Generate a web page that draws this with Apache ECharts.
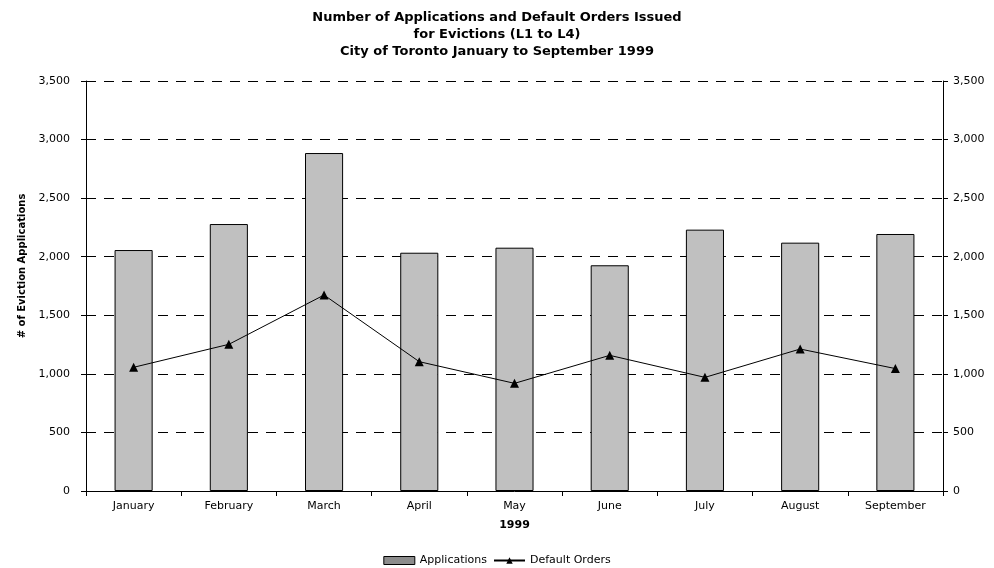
<!DOCTYPE html>
<html lang="en">
<head>
	<meta charset="UTF-8">
	<script src="https://cdn.jsdelivr.net/npm/echarts@6/dist/echarts.min.js"></script>
	<title>evictions</title>
	<style>
		body { margin: 0; background: #fff; }
		#chart { width: 994px; height: 568px; }
	</style>
</head>
<body>
	<div id="chart"></div>
	<script>
		// data
		var months = ['January', 'February', 'March', 'April', 'May', 'June', 'July', 'August', 'September'];
		var applications = [2057, 2279, 2885, 2034, 2077, 1927, 2231, 2120, 2194];
		var defaultOrders = [1056, 1252, 1673, 1104, 919, 1158, 970, 1212, 1045];

		var myChart = echarts.init(document.getElementById('chart'));
		var font = 'DejaVu Sans';

		var yAxisBase = {
			type: 'value',
			min: 0,
			max: 3500,
			interval: 500,
			axisLine: { show: true, lineStyle: { color: '#000', width: 1 } },
			axisTick: { show: true, length: 5, lineStyle: { color: '#000' } },
			axisLabel: {
				color: '#000', fontFamily: font, fontSize: 11, margin: 16,
				formatter: function (v) { return v.toLocaleString('en-US'); }
			}
		};

		var option = {
			backgroundColor: '#fff',
			animation: false,
			title: {
				text: 'Number of Applications and Default Orders Issued\nfor Evictions (L1 to L4)\nCity of Toronto January to September 1999',
				left: 'center',
				top: 4,
				textStyle: { fontFamily: font, fontSize: 13, fontWeight: 'bold', color: '#000', lineHeight: 17 }
			},
			grid: { left: 86, right: 51, top: 81, bottom: 77 },
			legend: {
				bottom: -3,
				left: 'center',
				itemGap: 6,
				itemWidth: 31,
				itemHeight: 8,
				textStyle: { fontFamily: font, fontSize: 11, color: '#000' },
				data: [
					{ name: 'Applications', icon: 'rect', itemStyle: { color: '#8c8c8c', borderColor: '#000', borderWidth: 1 } },
					{ name: 'Default Orders' }
				]
			},
			xAxis: {
				type: 'category',
				data: months,
				name: '1999',
				nameLocation: 'middle',
				nameGap: 29,
				nameTextStyle: { fontFamily: font, fontSize: 11, fontWeight: 'bold', color: '#000' },
				axisLine: { lineStyle: { color: '#000', width: 1 } },
				axisTick: { show: true, length: 5, lineStyle: { color: '#000' } },
				axisLabel: { color: '#000', fontFamily: font, fontSize: 11, margin: 10 }
			},
			yAxis: [
				Object.assign({}, yAxisBase, {
					position: 'left',
					name: '# of Eviction Applications',
					nameLocation: 'middle',
					nameGap: 52,
					nameTextStyle: { fontFamily: font, fontSize: 10, fontWeight: 'bold', color: '#000', padding: [0, 0, 0, 40] },
					splitLine: { show: true, lineStyle: { color: '#000', type: [10, 8], width: 1 } }
				}),
				Object.assign({}, yAxisBase, {
					position: 'right',
					axisLabel: Object.assign({}, yAxisBase.axisLabel, { margin: 10 }),
					splitLine: { show: false }
				})
			],
			series: [
				{
					name: 'Applications',
					type: 'bar',
					data: applications,
					barWidth: '40%',
					itemStyle: { color: '#c0c0c0', borderColor: '#000', borderWidth: 1 }
				},
				{
					name: 'Default Orders',
					type: 'line',
					yAxisIndex: 1,
					data: defaultOrders,
					symbol: 'triangle',
					symbolSize: 9,
					lineStyle: { color: '#000', width: 1 },
					itemStyle: { color: '#000' }
				}
			]
		};
		myChart.setOption(option);
	</script>
</body>
</html>
